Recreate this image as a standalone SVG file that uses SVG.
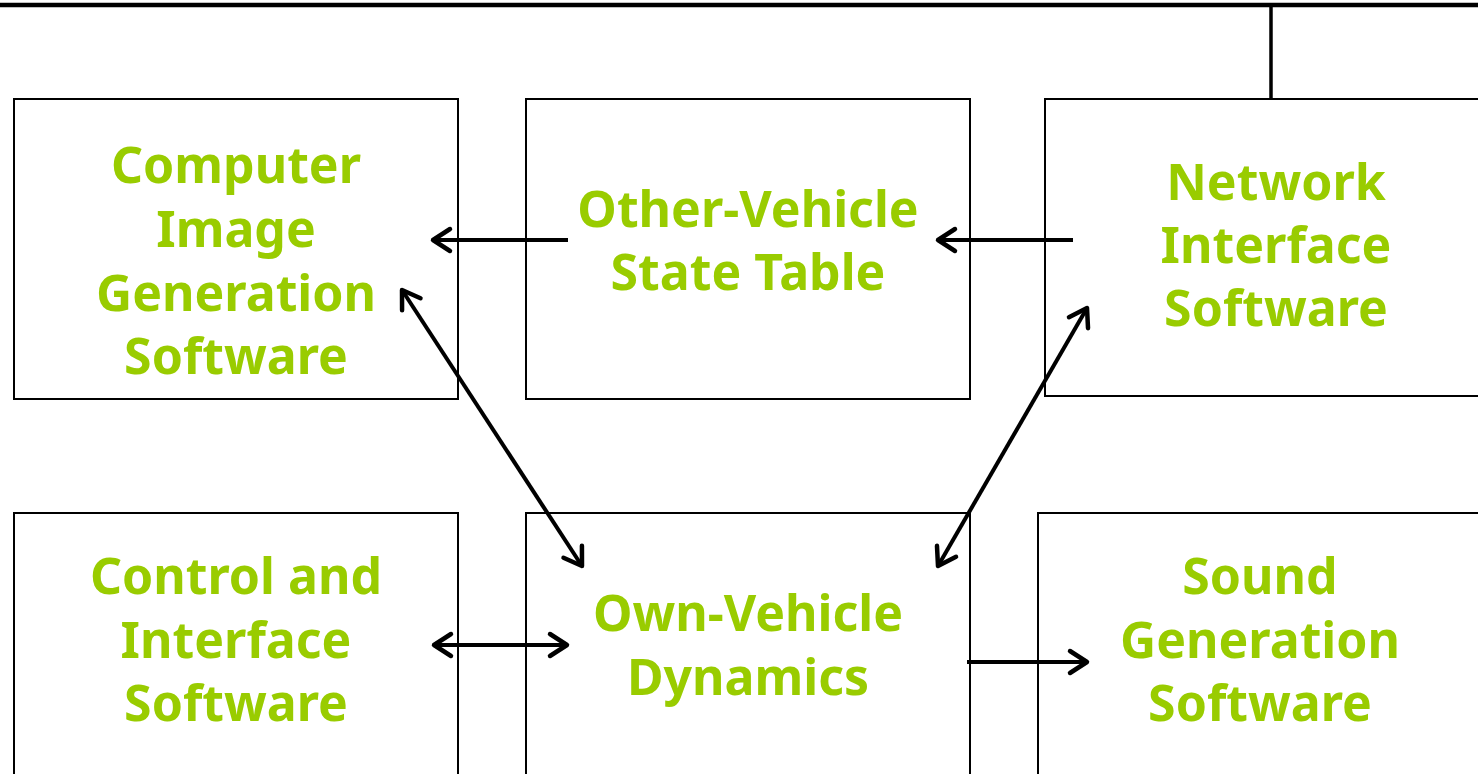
<svg xmlns="http://www.w3.org/2000/svg" width="1478" height="774" viewBox="0 0 1478 774">
<style>
.box{fill:#fff;stroke:#000;stroke-width:2}
.t{font-family:"Noto Sans","Open Sans",sans-serif;font-weight:bold;font-size:50px;fill:#99CC00;text-anchor:middle}
.c{stroke:#000;stroke-width:4;fill:none}
</style>
<defs>
<marker id="ah" viewBox="0 0 30 30" refX="26" refY="15" markerWidth="30" markerHeight="30" markerUnits="userSpaceOnUse" orient="auto-start-reverse">
<path d="M9,4 L26,15 L9,26" fill="none" stroke="#000" stroke-width="4.5" stroke-linecap="round" stroke-linejoin="round"/>
</marker>
</defs>
<rect width="1478" height="774" fill="#fff"/>
<g id="bus">
<line x1="0" y1="5" x2="1478" y2="5" stroke="#000" stroke-width="4.5"/>
<line x1="1271" y1="5" x2="1271" y2="99" stroke="#000" stroke-width="3.5"/>
</g>
<g id="n1"><rect class="box" x="14" y="99" width="444" height="300"/>
<text class="t"><tspan x="236" y="183">Computer</tspan><tspan x="236" y="247">Image</tspan><tspan x="236" y="311">Generation</tspan><tspan x="236" y="374">Software</tspan></text></g>
<g id="n2"><rect class="box" x="526" y="99" width="444" height="300"/>
<text class="t"><tspan x="748" y="227">Other-Vehicle</tspan><tspan x="748" y="290">State Table</tspan></text></g>
<g id="n3"><rect class="box" x="1045" y="99" width="440" height="297"/>
<text class="t"><tspan x="1276" y="200">Network</tspan><tspan x="1276" y="263">Interface</tspan><tspan x="1276" y="326">Software</tspan></text></g>
<g id="n4"><rect class="box" x="14" y="513" width="444" height="270"/>
<text class="t"><tspan x="236" y="594">Control and</tspan><tspan x="236" y="658">Interface</tspan><tspan x="236" y="721">Software</tspan></text></g>
<g id="n5"><rect class="box" x="526" y="513" width="444" height="270"/>
<text class="t"><tspan x="748" y="631">Own-Vehicle</tspan><tspan x="748" y="695">Dynamics</tspan></text></g>
<g id="n6"><rect class="box" x="1038" y="513" width="450" height="270"/>
<text class="t"><tspan x="1260" y="594">Sound</tspan><tspan x="1260" y="658">Generation</tspan><tspan x="1260" y="721">Software</tspan></text></g>
<g id="connectors">
<line class="c" x1="568" y1="240" x2="433" y2="240" marker-end="url(#ah)"/>
<line class="c" x1="1073" y1="240" x2="938" y2="240" marker-end="url(#ah)"/>
<line class="c" x1="402" y1="290" x2="582" y2="566" marker-start="url(#ah)" marker-end="url(#ah)"/>
<line class="c" x1="1087" y1="308" x2="938" y2="566" marker-start="url(#ah)" marker-end="url(#ah)"/>
<line class="c" x1="434" y1="645" x2="567" y2="645" marker-start="url(#ah)" marker-end="url(#ah)"/>
<line class="c" x1="967" y1="662" x2="1087" y2="662" marker-end="url(#ah)"/>
</g>
</svg>
